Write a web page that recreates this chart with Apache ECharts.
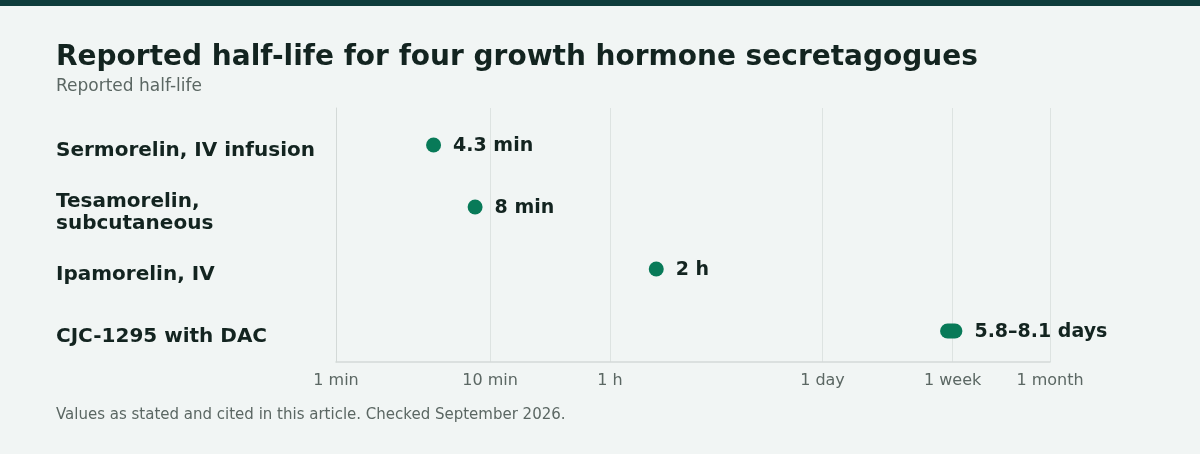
<!DOCTYPE html>
<html>
<head>
<meta charset="utf-8">
<script src="https://cdn.jsdelivr.net/npm/echarts@6/dist/echarts.min.js"></script>
<style>
html,body{margin:0;padding:0;background:#f1f5f4;}
#topbar{position:absolute;left:0;top:0;width:1200px;height:6px;background:#0f3d3c;}
#chart{position:absolute;left:0;top:0;width:1200px;height:454px;}
</style>
</head>
<body>
<div id="chart"></div>
<div id="topbar"></div>
<script>
// ---- data ----
const compounds = ['Sermorelin, IV infusion', 'Tesamorelin,\nsubcutaneous', 'Ipamorelin, IV', 'CJC-1295 with DAC'];
const halfLifeLowMinutes = [4.3, 8, 120, 8352];      // 5.8 days = 8352 min
const halfLifeHighMinutes = [4.3, 8, 120, 11664];    // 8.1 days = 11664 min
const valueLabels = ['4.3 min', '8 min', '2 h', '5.8–8.1 days'];
const tickValues = [1, 10, 60, 1440, 10080, 43200];
const tickLabels = ['1 min', '10 min', '1 h', '1 day', '1 week', '1 month'];

const TEXT = '#132420';
const MUTED = '#5b6763';
const GREEN = '#087a58';
const FONT = 'DejaVu Sans';

const chart = echarts.init(document.getElementById('chart'), null, {renderer: 'canvas'});

function tickName(v) {
  let best = 0, bd = Infinity;
  tickValues.forEach((t, i) => {
    const d = Math.abs(Math.log10(t) - Math.log10(v));
    if (d < bd) { bd = d; best = i; }
  });
  return tickLabels[best];
}

const seriesData = compounds.map((c, i) => [halfLifeLowMinutes[i], halfLifeHighMinutes[i], i]);

const option = {
  backgroundColor: 'transparent',
  animation: false,
  title: [
    {text: 'Reported half-life for four growth hormone secretagogues', left: 56, top: 44, padding: 0,
     textStyle: {fontFamily: FONT, fontSize: 28, fontWeight: 'bold', color: TEXT}},
    {text: 'Reported half-life', left: 56, top: 78, padding: 0,
     textStyle: {fontFamily: FONT, fontSize: 17, fontWeight: 'normal', color: MUTED}},
    {text: 'Values as stated and cited in this article. Checked September 2026.', left: 56, top: 408, padding: 0,
     textStyle: {fontFamily: FONT, fontSize: 15, fontWeight: 'normal', color: MUTED}}
  ],
  grid: [
    {left: 336, right: 150, top: 108, bottom: 92},
    {left: 336, right: 150, top: 114, bottom: 92},
    {left: 336, right: 150, top: 120, bottom: 86}
  ],
  xAxis: [
    {
      type: 'log', gridIndex: 0, min: 1, max: 43200, logBase: 10,
      axisLine: {show: true, lineStyle: {color: '#d3d9d7', width: 1.5}},
      axisTick: {show: false, customValues: tickValues},
      splitLine: {show: true, lineStyle: {color: '#dde3e1', width: 1}},
      axisLabel: {customValues: tickValues, formatter: v => tickName(v), margin: 11,
        fontFamily: FONT, fontSize: 16, color: MUTED}
    },
    {
      type: 'log', gridIndex: 1, min: 1, max: 43200, logBase: 10, show: false,
      splitLine: {show: false}
    },
    {
      type: 'log', gridIndex: 2, min: 1, max: 43200, logBase: 10, show: false,
      splitLine: {show: false}
    }
  ],
  yAxis: [
    {
      type: 'value', gridIndex: 0, min: 0, max: 1,
      axisLine: {show: true, lineStyle: {color: '#d3d9d7', width: 1}},
      axisLabel: {show: false}, axisTick: {show: false}, splitLine: {show: false}
    },
    {
      type: 'category', gridIndex: 1, data: compounds, inverse: true,
      axisLine: {show: false}, axisTick: {show: false}, splitLine: {show: false},
      axisLabel: {show: false}
    },
    {
      type: 'category', gridIndex: 2, data: compounds, inverse: true,
      axisLine: {show: false}, axisTick: {show: false}, splitLine: {show: false},
      axisLabel: {align: 'left', margin: 280, fontFamily: FONT, fontSize: 20, fontWeight: 'bold',
        color: TEXT, lineHeight: 22}
    }
  ],
  series: [{
    type: 'custom',
    xAxisIndex: 1, yAxisIndex: 1,
    data: seriesData,
    encode: {x: [0, 1], y: 2},
    renderItem: function (params, api) {
      const p0 = api.coord([api.value(0), api.value(2)]);
      const p1 = api.coord([api.value(1), api.value(2)]);
      const h = 15;
      let x0 = p0[0], x1 = p1[0];
      if (x1 - x0 < h) { const m = (x0 + x1) / 2; x0 = m - h / 2; x1 = m + h / 2; }
      const y = p0[1];
      return {
        type: 'group',
        children: [
          {type: 'rect', shape: {x: x0, y: y - h / 2, width: x1 - x0, height: h, r: h / 2},
           style: {fill: GREEN}},
          {type: 'text', x: x1 + 12, y: y + 1,
           style: {text: valueLabels[params.dataIndex], fill: TEXT, font: 'bold 19px "DejaVu Sans"',
             verticalAlign: 'middle', align: 'left'}}
        ]
      };
    }
  }]
};
chart.setOption(option);
</script>
</body>
</html>
